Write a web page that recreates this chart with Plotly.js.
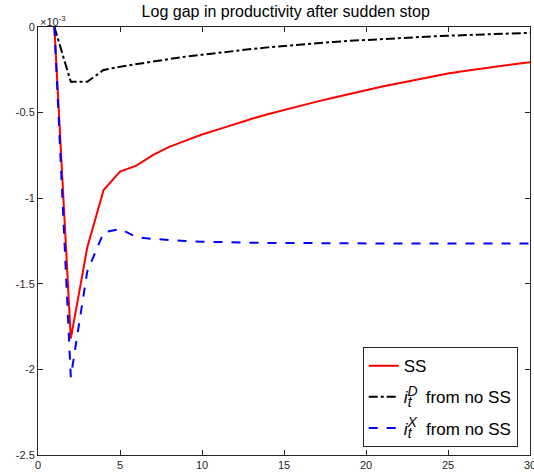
<!DOCTYPE html>
<html>
<head>
<meta charset="utf-8">
<script src="https://cdn.plot.ly/plotly-3.0.1.min.js"></script>
<style>html,body{margin:0;padding:0;background:#fff;}#chart{width:534px;height:474px;}</style>
</head>
<body>
<div id="chart"></div>
<script>
// periods after the sudden stop
const periods = [1,2,3,4,5,6,7,8,9,10,11,12,13,14,15,16,17,18,19,20,21,22,23,24,25,26,27,28,29,30];
// log gap in productivity, in units of 1e-3
const ssGap = [0,-1.82,-1.29,-0.952,-0.845,-0.81,-0.748,-0.70,-0.664,-0.628,-0.598,-0.566,-0.537,-0.510,-0.484,-0.460,-0.436,-0.413,-0.390,-0.368,-0.348,-0.328,-0.309,-0.290,-0.272,-0.257,-0.243,-0.230,-0.218,-0.206];
const iDGap = [0,-0.32,-0.32,-0.251,-0.232,-0.216,-0.20,-0.187,-0.173,-0.161,-0.150,-0.139,-0.129,-0.119,-0.110,-0.102,-0.094,-0.087,-0.081,-0.075,-0.069,-0.064,-0.059,-0.055,-0.051,-0.047,-0.043,-0.040,-0.037,-0.034];
const iXGap = [0,-2.045,-1.43,-1.20,-1.18,-1.227,-1.238,-1.245,-1.25,-1.254,-1.257,-1.259,-1.26,-1.261,-1.262,-1.263,-1.263,-1.264,-1.264,-1.264,-1.265,-1.265,-1.265,-1.265,-1.265,-1.265,-1.265,-1.265,-1.265,-1.265];
const xTicks = [0,5,10,15,20,25,30];
const yTicks = [0,-0.5,-1,-1.5,-2,-2.5];
const yTickLabels = ['0','-0.5','-1','-1.5','-2','-2.5'];
const seriesNames = ['SS',
  '<i>i</i><sup><span style="font-size:14px;letter-spacing:-10px"><i>D</i></span></sup><sub><span style="font-size:14px"><i>t</i></span></sub>   from no SS',
  '<i>i</i><sup><span style="font-size:14px;letter-spacing:-9px"><i>X</i></span></sup><sub><span style="font-size:14px"><i>t</i></span></sub>   from no SS'];

const traces = [
  {x: periods, y: ssGap, name: seriesNames[0], legendgroup: 'a', mode: 'lines', line: {color: '#ff0000', width: 2}},
  {x: periods, y: iDGap, name: seriesNames[1], legendgroup: 'b', mode: 'lines', line: {color: '#000000', width: 2, dash: 'dashdot'}},
  {x: periods, y: iXGap, name: seriesNames[2], legendgroup: 'c', mode: 'lines', line: {color: '#0000ff', width: 2, dash: 'dash'}}
];

const axisCommon = {
  showgrid: false, zeroline: false, showline: true, mirror: 'ticks',
  linecolor: '#262626', linewidth: 1, ticks: 'inside', ticklen: 5, tickcolor: '#262626',
  ticklabeloverflow: 'allow',
  tickfont: {family: 'Liberation Sans, Arial, sans-serif', size: 11, color: '#262626'}
};

const layout = {
  width: 534, height: 474,
  margin: {l: 38, r: 4, t: 27, b: 19},
  paper_bgcolor: '#ffffff', plot_bgcolor: '#ffffff',
  title: {text: 'Log gap in productivity after sudden stop', x: 0.535, xanchor: 'center', y: 0.975, yanchor: 'middle',
    font: {family: 'Liberation Sans, Arial, sans-serif', size: 16, color: '#000000'}},
  xaxis: Object.assign({}, axisCommon, {range: [0, 30], tickvals: xTicks, ticktext: xTicks.map(String)}),
  yaxis: Object.assign({}, axisCommon, {range: [-2.5, 0], tickvals: yTicks, ticktext: yTickLabels}),
  showlegend: true,
  legend: {x: 0.66, xanchor: 'left', y: 0.252, yanchor: 'top', bgcolor: '#ffffff', bordercolor: '#262626', borderwidth: 1,
    font: {family: 'Liberation Sans, Arial, sans-serif', size: 17, color: '#000000'}, itemwidth: 30, tracegroupgap: 6},
  annotations: [{xref: 'paper', yref: 'paper', x: 0, y: 1, xanchor: 'left', yanchor: 'bottom', showarrow: false,
    text: '×10<sup>-3</sup>', font: {family: 'Liberation Sans, Arial, sans-serif', size: 11, color: '#262626'}, yshift: -3}]
};

Plotly.newPlot('chart', traces, layout, {displayModeBar: false, staticPlot: true});
</script>
</body>
</html>
